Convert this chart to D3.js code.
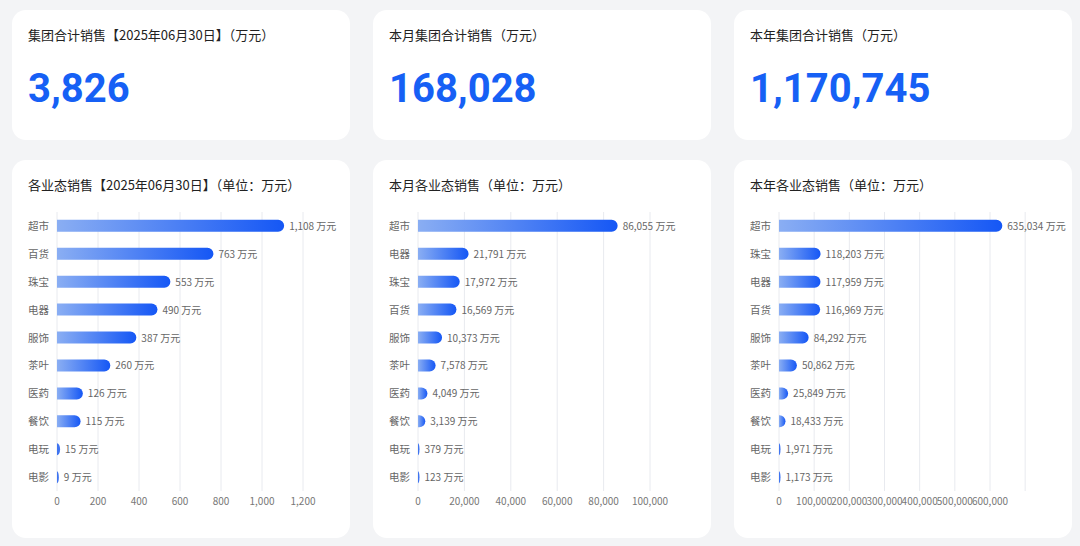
<!DOCTYPE html>
<html><head><meta charset="utf-8">
<script src="https://cdn.jsdelivr.net/npm/d3@7"></script>
<style>body{margin:0;background:#f3f4f6;font-family:"Noto Sans CJK SC","Noto Sans",sans-serif}</style>
</head><body><svg id="c" width="1080" height="546"></svg>
<script>
const kpiTitles=["集团合计销售【2025年06月30日】（万元）","本月集团合计销售（万元）","本年集团合计销售（万元）"];
const kpiValues=[3826,168028,1170745];
const chartTitles=["各业态销售【2025年06月30日】（单位：万元）","本月各业态销售（单位：万元）","本年各业态销售（单位：万元）"];
const cats1=["超市","百货","珠宝","电器","服饰","茶叶","医药","餐饮","电玩","电影"];
const vals1=[1108,763,553,490,387,260,126,115,15,9];
const cats2=["超市","电器","珠宝","百货","服饰","茶叶","医药","餐饮","电玩","电影"];
const vals2=[86055,21791,17972,16569,10373,7578,4049,3139,379,123];
const cats3=["超市","珠宝","电器","百货","服饰","茶叶","医药","餐饮","电玩","电影"];
const vals3=[635034,118203,117959,116969,84292,50862,25849,18433,1971,1173];
const ticks1=[0,200,400,600,800,1000,1200];
const ticks2=[0,20000,40000,60000,80000,100000];
const ticks3=[0,100000,200000,300000,400000,500000,600000];
const grid3=[0,100000,200000,300000,400000,500000,600000,700000];

const svg=d3.select("#c");
const defs=svg.append("defs");
const g=defs.append("linearGradient").attr("id","gr").attr("x1","0").attr("x2","1");
g.append("stop").attr("offset","0").attr("stop-color","#8aaef3");
g.append("stop").attr("offset","1").attr("stop-color","#1557f5");
const cardX=[12,373,734], cw=338;
const fmt=d3.format(",");
cardX.forEach((x,i)=>{
  svg.append("rect").attr("x",x).attr("y",10).attr("width",cw).attr("height",130).attr("rx",14).attr("fill","#fff");
  svg.append("text").attr("x",x+16).attr("y",40).attr("font-size",13).attr("fill","#222").text(kpiTitles[i]);
  svg.append("text").attr("x",x+16).attr("y",102).attr("font-size",40).attr("font-weight","bold").attr("fill","#1660f5").attr("font-family","Roboto,sans-serif").text(fmt(kpiValues[i]));
  svg.append("rect").attr("x",x).attr("y",160).attr("width",cw).attr("height",378).attr("rx",14).attr("fill","#fff");
  svg.append("text").attr("x",x+16).attr("y",190).attr("font-size",13).attr("fill","#222").text(chartTitles[i]);
});
const charts=[
 {x0:57,x1:303,dom:1200,cats:cats1,vals:vals1,ticks:ticks1,grid:ticks1},
 {x0:418,x1:650,dom:100000,cats:cats2,vals:vals2,ticks:ticks2,grid:ticks2},
 {x0:779,x1:990,dom:600000,cats:cats3,vals:vals3,ticks:ticks3,grid:grid3}
];
charts.forEach((c,i)=>{
  const gx=svg.append("g");
  const x=d3.scaleLinear().domain([0,c.dom]).range([c.x0,c.x1]);
  const y=d3.scaleBand().domain(c.cats).range([212,491]).paddingInner(0.57).paddingOuter(0.28);
  gx.selectAll(".gl").data(c.grid).join("line").attr("x1",d=>x(d)).attr("x2",d=>x(d)).attr("y1",212).attr("y2",491).attr("stroke","#e8eaef");
  gx.selectAll(".tl").data(c.ticks).join("text").attr("x",d=>x(d)).attr("y",505).attr("text-anchor","middle").attr("font-size",10).attr("fill","#777").text(d=>fmt(d));
  gx.selectAll(".cl").data(c.cats).join("text").attr("x",cardX[i]+16).attr("y",d=>y(d)+y.bandwidth()/2+4).attr("font-size",10.5).attr("fill","#666").text(d=>d);
  gx.selectAll(".b").data(c.vals).join("path").attr("fill","url(#gr)").attr("d",(d,j)=>{
    const w=Math.max(x(d)-c.x0,1.5), h=y.bandwidth(), y0=y(c.cats[j]); const r=Math.min(h/2,w);
    return `M${c.x0},${y0}h${w-r}a${r},${h/2} 0 0 1 0,${h}h${-(w-r)}z`;
  }).attr("transform","").attr("fill",(d)=>x(d)-c.x0<6?"#3f74f0":"url(#gr)");
  gx.selectAll(".vl").data(c.vals).join("text").attr("x",d=>Math.max(x(d),c.x0+1.5)+5).attr("y",(d,j)=>y(c.cats[j])+y.bandwidth()/2+4).attr("font-size",10).attr("fill","#666").text(d=>fmt(d)+" 万元");
});
</script></body></html>
